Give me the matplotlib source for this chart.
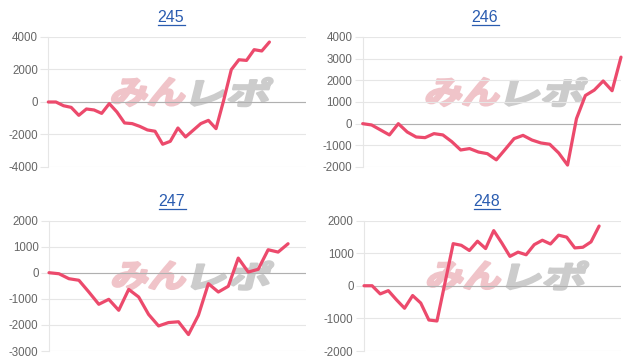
import numpy as np
import matplotlib
matplotlib.use("Agg")
import matplotlib.pyplot as plt
import matplotlib.transforms as mtransforms
from matplotlib.textpath import TextPath
from matplotlib.patches import PathPatch
from matplotlib.font_manager import FontProperties
from matplotlib.lines import Line2D

plt.rcParams['font.family'] = ['Liberation Sans', 'DejaVu Sans']
plt.rcParams['axes.unicode_minus'] = False

# chart data
titles = ["245", "246", "247", "248"]

vals_245 = [0, 0, -230, -330, -820, -430, -490, -700, -100, -615,
            -1290, -1330, -1500, -1720, -1800, -2600, -2420, -1600, -2150, -1740,
            -1330, -1130, -1640, 100, 1990, 2600, 2560, 3220, 3140, 3690]
vals_246 = [0, -60, -290, -520, 0, -385, -615, -645, -460, -520,
            -830, -1215, -1150, -1310, -1385, -1670, -1185, -690, -540, -755,
            -890, -950, -1350, -1910, 230, 1300, 1550, 1970, 1520, 3070]
vals_247 = [0, -40, -230, -290, -740, -1210, -1020, -1440, -640, -930,
            -1600, -2040, -1910, -1880, -2370, -1630, -420, -740, -520, 560,
            25, 130, 880, 790, 1110]
vals_248 = [0, 0, -250, -150, -430, -690, -300, -530, -1050, -1080,
            100, 1290, 1240, 1080, 1365, 1140, 1690, 1310, 900, 1030,
            950, 1260, 1395, 1280, 1550, 1490, 1160, 1180, 1345, 1830]

yticks_245 = [-4000, -2000, 0, 2000, 4000]
yticks_246 = [-2000, -1000, 0, 1000, 2000, 3000, 4000]
yticks_247 = [-3000, -2000, -1000, 0, 1000, 2000]
yticks_248 = [-2000, -1000, 0, 1000, 2000]

# number of x slots on each axis (data does not always fill it)
xspan = [33.8, 29, 25.8, 31.7]

W, H = 630, 364
LINE = '#ec4a6c'
GRID = '#e6e6e6'
TICKC = '#666666'
LINK = '#2a5cb0'

fig = plt.figure(figsize=(W / 100, H / 100), dpi=100)

# axes boxes in pixels: left, top, right, bottom
boxes = [(48.3, 37, 306, 167), (362.7, 37, 621, 167),
         (49, 220.5, 306, 351), (364, 220.5, 621, 351)]
title_pos = [(171, 17.5), (485, 18), (172, 202), (487, 202)]

series = [vals_245, vals_246, vals_247, vals_248]
ticks = [yticks_245, yticks_246, yticks_247, yticks_248]

fp_logo = FontProperties(family='Noto Sans CJK JP', weight='bold')


def logo_piece(text, x0, ytop, w, h, color):
    tp = TextPath((0, 0), text, size=1, prop=fp_logo)
    ext = tp.get_extents()
    tr = (mtransforms.Affine2D()
          .translate(-ext.x0, -ext.y0)
          .scale(w / ext.width, h / ext.height)
          .skew_deg(14, 0)
          .translate(x0, H - ytop - h))
    # stroke in the same colour to make the glyphs heavier
    return PathPatch(tp, transform=tr, facecolor=color, edgecolor=color,
                     lw=1.8, joinstyle='round', zorder=0.2)


for i, (l, t, r, b) in enumerate(boxes):
    ax = fig.add_axes([l / W, 1 - b / H, (r - l) / W, (b - t) / H])
    ax.set_facecolor('none')
    vals = series[i]
    x = np.arange(len(vals))
    ax.plot(x, vals, color=LINE, lw=2.3, solid_joinstyle='round',
            solid_capstyle='round', zorder=3, clip_on=False)
    ax.set_xlim(0, xspan[i])
    yt = ticks[i]
    ax.set_ylim(yt[0], yt[-1])
    ax.set_yticks(yt)
    ax.set_yticklabels([str(v) for v in yt])
    ax.set_xticks([])
    ax.set_axisbelow(True)
    ax.grid(axis='y', color=GRID, lw=0.8)
    ax.axhline(0, color='#b0b0b0', lw=0.8, zorder=1)
    for s in ['top', 'right', 'bottom']:
        ax.spines[s].set_visible(False)
    ax.spines['left'].set_color(GRID)
    ax.spines['left'].set_linewidth(0.8)
    ax.tick_params(axis='y', length=6, width=0.8, color=GRID, pad=1.5,
                   labelsize=8.3, labelcolor=TICKC)

    # watermark
    lx = l + 62
    ly = t + 41
    ax.add_patch(logo_piece("みん", lx, ly, 72, 28, '#f0c4c9'))
    ax.add_patch(logo_piece("レポ", lx + 80, ly, 76, 28, '#cccccc'))

    # linked title with underline
    tx, ty = title_pos[i]
    fig.text(tx / W, 1 - ty / H, titles[i], color=LINK, fontsize=11.5,
             ha='center', va='center')
    half = 13.5
    fig.add_artist(Line2D([(tx - half) / W, (tx + half) / W],
                          [1 - (ty + 7) / H, 1 - (ty + 7) / H],
                          color=LINK, lw=0.9))

fig.savefig("out.png", dpi=100)
